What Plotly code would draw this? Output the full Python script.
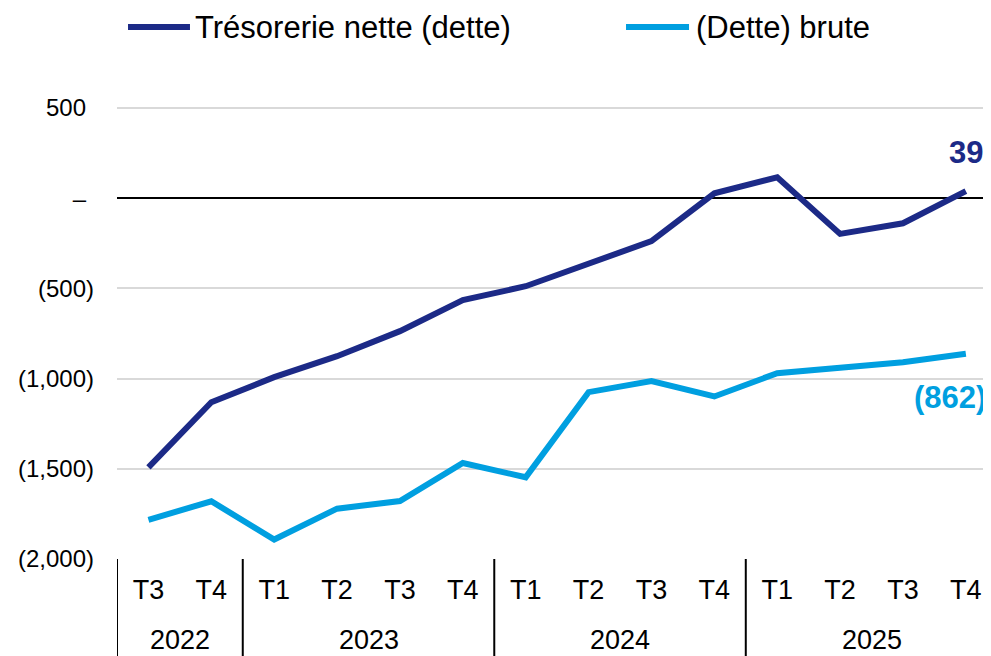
import plotly.graph_objects as go

years = ["2022", "2022", "2023", "2023", "2023", "2023", "2024", "2024", "2024", "2024",
         "2025", "2025", "2025", "2025"]
quarters = ["T3", "T4", "T1", "T2", "T3", "T4", "T1", "T2", "T3", "T4", "T1", "T2", "T3", "T4"]
year_groups = ["2022", "2023", "2024", "2025"]

net_cash = [-1492, -1131, -992, -876, -737, -565, -488, -360, -238, 27, 116, -198, -139, 39]
gross_debt = [-1783, -1680, -1892, -1721, -1679, -1468, -1547, -1075, -1014, -1099, -970, -940, -909, -862]

name_net = "Trésorerie nette (dette)"
name_gross = "(Dette) brute"

y_tickvals = [500, 0, -500, -1000, -1500, -2000]
PAD = "<span style='color:rgba(255,255,255,0)'>)</span>"
y_ticktext = ["500" + PAD, "–" + PAD, "(500)", "(1,000)", "(1,500)", "(2,000)"]

NAVY = "#1c2a87"
LIGHT = "#009fe0"
FONT = "Liberation Sans, Arial, sans-serif"

periods = [f"{q} {y}" for q, y in zip(quarters, years)]

fig = go.Figure()
fig.add_trace(go.Scatter(x=periods, y=net_cash, mode="lines", name=name_net,
                         line=dict(color=NAVY, width=6), showlegend=False))
fig.add_trace(go.Scatter(x=periods, y=gross_debt, mode="lines", name=name_gross,
                         line=dict(color=LIGHT, width=6), showlegend=False))

# end labels
fig.add_annotation(x=periods[-1], y=net_cash[-1], text=f"<b>{net_cash[-1]}</b>",
                   showarrow=False, yshift=39, xanchor="center",
                   font=dict(family=FONT, size=31, color=NAVY))
fig.add_annotation(x=periods[-1], y=gross_debt[-1], text=f"<b>({abs(gross_debt[-1])})</b>",
                   showarrow=False, yshift=-44, xshift=-16, xanchor="center",
                   font=dict(family=FONT, size=31, color=LIGHT))

# year group labels and dividers
idx = list(range(len(periods)))
for yr in year_groups:
    members = [i for i in idx if years[i] == yr]
    mid = (members[0] + members[-1]) / 2
    fig.add_annotation(x=mid, xref="x", y=-0.1623, yref="paper", text=yr, showarrow=False,
                       xanchor="center", yanchor="middle",
                       font=dict(family=FONT, size=27, color="#000000"))
    fig.add_shape(type="line", xref="x", yref="paper", x0=members[0] - 0.5, x1=members[0] - 0.5,
                  y0=0, y1=-0.25, line=dict(color="#000000", width=2))

# manual legend
leg_y = 1.066
for x0, x1, col, tx, name in [(0.0126, 0.0835, NAVY, 0.0868, name_net),
                              (0.5824, 0.6545, LIGHT, 0.6600, name_gross)]:
    fig.add_shape(type="line", xref="paper", yref="paper", x0=x0, x1=x1, y0=leg_y, y1=leg_y,
                  line=dict(color=col, width=6))
    fig.add_annotation(xref="paper", yref="paper", x=tx, y=leg_y, text=name, showarrow=False,
                       xanchor="left", yanchor="middle",
                       font=dict(family=FONT, size=31, color="#000000"))

fig.update_layout(
    width=983, height=648,
    margin=dict(l=109, r=0, t=52, b=97),
    paper_bgcolor="white", plot_bgcolor="white",
    font=dict(family=FONT, color="#000000"),
    showlegend=False,
)
fig.update_xaxes(
    type="category",
    range=[-0.5, 13.4],
    automargin=False,
    tickvals=periods, ticktext=quarters,
    showgrid=False,
    showline=False,
    ticks="", ticklabelstandoff=12,
    tickfont=dict(family=FONT, size=27, color="#000000"),
)
fig.update_yaxes(
    range=[-2000, 766],
    automargin=False,
    tickvals=y_tickvals, ticktext=y_ticktext,
    showgrid=True, gridcolor="#d9d9d9", gridwidth=2,
    zeroline=True, zerolinecolor="#000000", zerolinewidth=2,
    showline=False,
    ticks="", ticklabelstandoff=22,
    tickfont=dict(family=FONT, size=24, color="#000000"),
)
fig.write_html("out.html")
